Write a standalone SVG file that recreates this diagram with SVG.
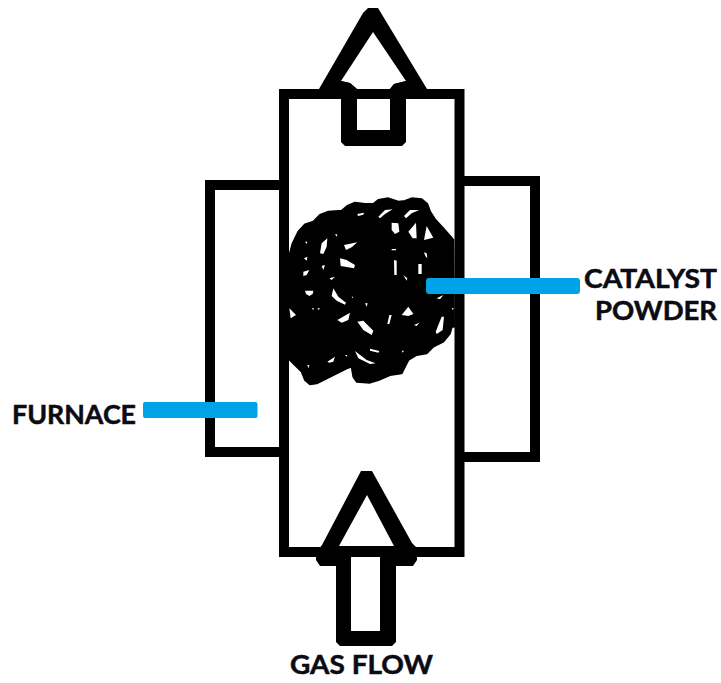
<svg xmlns="http://www.w3.org/2000/svg" width="721" height="683" viewBox="0 0 721 683">
<style>
.o{fill:none;stroke:#000;stroke-width:10;stroke-linejoin:miter}
.b{fill:#00a2e8}
.t{font-family:Lato,"Liberation Sans",sans-serif;font-weight:700;font-size:26px;fill:#0b0b14;stroke:#0b0b14;stroke-width:.5px}
.h{fill:#fff}
</style>
<rect width="721" height="683" fill="#fff"/>
<g id="furnace-left"><path class="o" d="M284 185H210V452H284"/></g>
<g id="furnace-right"><path class="o" d="M459 181H535V457H459"/></g>
<g id="tube"><rect class="o" x="284" y="94" width="175.500" height="458"/></g>
<g id="catalyst" transform="translate(270 190) scale(.33333)">
<path fill="#000" stroke="#000" stroke-width="6" stroke-linejoin="round" d="M60 190L68 160L85 125L105 103L130 95L150 75L175 65L215 62L232 48L255 38L285 42L310 42L325 30L355 25L385 35L405 33L425 25L455 28L472 42L480 65L495 88L520 115L550 150L552 410L545 410L540 430L520 455L490 470L470 490L440 495L415 510L405 530L395 550L360 555L325 570L300 578L260 575L250 560L245 530L230 535L200 550L170 565L140 580L120 583L105 570L95 545L75 525L60 510L50 430L50 190Z"/>
<path class="h" d="M262 72L282 68L280 74L264 78ZM325 80L345 60L368 58L345 72L330 85ZM402 78L420 60L448 60L425 70L408 85ZM365 98L385 100L388 125L375 132L365 120ZM415 125L438 98L440 145L428 145ZM470 108L490 143L462 150ZM150 190L155 160L172 145L170 170L160 192ZM222 165L262 157L245 172L228 180ZM210 205L230 210L255 225L252 235L212 228ZM105 155L112 155L110 162ZM195 133L202 133L200 140ZM102 205L112 200L110 212ZM100 245L118 240L110 255L100 258ZM155 228L165 225L160 240ZM178 265L195 260L185 270ZM105 302L130 302L128 312L118 318L108 312ZM190 295L205 320L228 338L225 344L200 332L185 318ZM365 177L378 177L378 181L365 181ZM372 210L380 212L380 255L373 255ZM445 222L455 222L455 252L445 252ZM462 187L470 190L472 205L466 198ZM400 255L412 265L410 272ZM395 375L415 350L430 372L415 378ZM500 325L520 315L510 328ZM202 390L240 368L235 390L215 398ZM262 395L280 392L310 422L305 435L280 420ZM358 375L365 375L358 402L352 402ZM432 405L448 398L440 408ZM515 380L522 380L518 420L500 432L497 425ZM58 355L78 375L62 385ZM125 355L132 355L130 360ZM142 355L150 355L146 360ZM285 340L293 340L290 350ZM245 320L250 320L248 325ZM300 476L328 483L325 488L300 482ZM255 483L290 510L317 520L300 522L265 505ZM172 515L195 500L190 515L178 518ZM112 525L118 525L115 535ZM225 495L232 495L230 500ZM395 482L402 482L398 488ZM545 355L552 355L548 360Z"/>
</g>
<g id="top-arrow">
<path fill="#000" d="M368 8H378L427 89V99H319V89L363 13Z"/>
<path class="h" d="M373 32L341 81L350 83L357 89H390L394 84L406 81Z"/>
<path fill="#000" d="M341 81L350 83L357 89V99H341ZM406 81L394 84L390 89V99H406Z"/>
<path fill="#000" d="M341 89H406V142L402 146H345L341 142Z"/>
<rect class="h" x="357" y="99" width="33" height="31"/>
</g>
<g id="bottom-arrow">
<path fill="#000" d="M361 471H372L412 543L417 548V560L413 566H396V642L392 646H340L336 642V566H320L316 560V552L322 545Z"/>
<path class="h" d="M367 495L339 546H394Z"/>
<rect class="h" x="351" y="557" width="29" height="74"/>
</g>
<g id="connectors">
<rect class="b" x="426" y="278" width="154" height="16" rx="3"/>
<rect class="b" x="143" y="402" width="114.500" height="16" rx="2"/>
</g>
<g id="labels">
<text class="t" x="12" y="424" textLength="124" lengthAdjust="spacingAndGlyphs">FURNACE</text>
<text class="t" x="584" y="288" textLength="133" lengthAdjust="spacingAndGlyphs">CATALYST</text>
<text class="t" x="595" y="320" textLength="122" lengthAdjust="spacingAndGlyphs">POWDER</text>
<text class="t" x="290" y="674" textLength="143" lengthAdjust="spacingAndGlyphs">GAS FLOW</text>
</g>
</svg>
